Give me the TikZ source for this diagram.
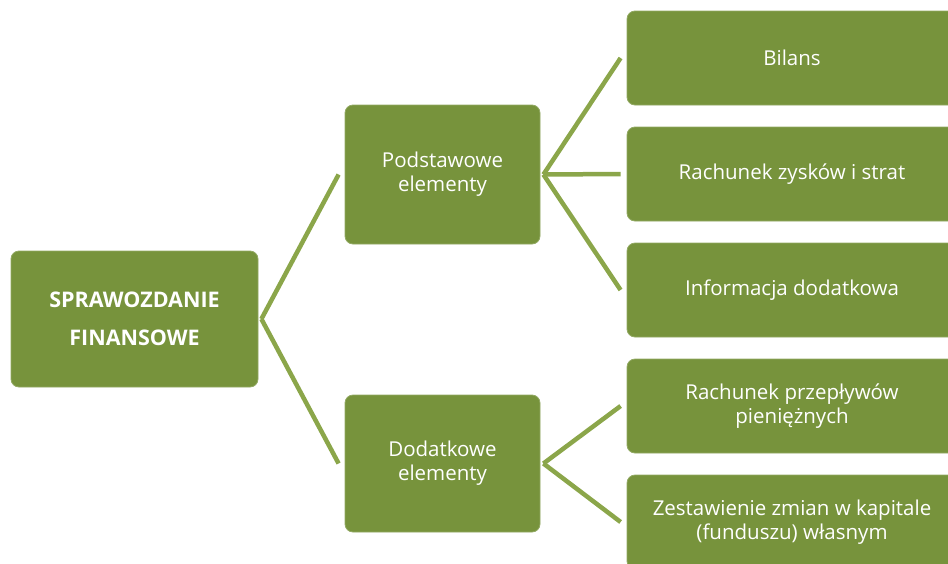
\documentclass[tikz,border=0pt]{standalone}
\usepackage{fontspec}
\setmainfont{Open Sans}
\usetikzlibrary{calc}
\definecolor{boxgreen}{HTML}{77933C}
\definecolor{linegreen}{HTML}{8BA64A}
\begin{document}
\begin{tikzpicture}[x=1pt,y=-1pt,
  box/.style={draw=boxgreen!80!white, line width=0.8pt, fill=boxgreen, rounded corners=8pt, text=white, align=center, inner sep=0pt,
    font=\fontsize{20.5}{24}\selectfont},
  conn/.style={draw=linegreen, line width=4.5pt}]
\useasboundingbox (0,0) rectangle (948,563);
\begin{scope}
\clip (0,0) rectangle (948,563);
\node[box, minimum width=247, minimum height=136, font=\fontsize{21.5}{38}\selectfont\bfseries] (root) at (134.5,319) {SPRAWOZDANIE\\FINANSOWE};
\node[box, minimum width=195, minimum height=139] (pod) at (442.5,174.5) {Podstawowe\\elementy};
\node[box, minimum width=195, minimum height=137] (dod) at (442.5,463.5) {Dodatkowe\\elementy};
\node[box, minimum width=330, minimum height=94] (b1) at (792,58) {Bilans};
\node[box, minimum width=330, minimum height=94] (b2) at (792,174) {Rachunek zysków i strat};
\node[box, minimum width=330, minimum height=94] (b3) at (792,290) {Informacja dodatkowa};
\node[box, minimum width=330, minimum height=94] (b4) at (792,406) {Rachunek przepływów\\pieniężnych};
\node[box, minimum width=330, minimum height=94] (b5) at (792,522) {Zestawienie zmian w kapitale\\(funduszu) własnym};
\end{scope}
\draw[conn] ([xshift=3]root.east) -- ([xshift=-6]pod.west);
\draw[conn] ([xshift=3]root.east) -- ([xshift=-6]dod.west);
\draw[conn] ([xshift=3]pod.east) -- ([xshift=-6]b1.west);
\draw[conn] ([xshift=3]pod.east) -- ([xshift=-6]b2.west);
\draw[conn] ([xshift=3]pod.east) -- ([xshift=-6]b3.west);
\draw[conn] ([xshift=3]dod.east) -- ([xshift=-6]b4.west);
\draw[conn] ([xshift=3]dod.east) -- ([xshift=-6]b5.west);
\end{tikzpicture}
\end{document}
